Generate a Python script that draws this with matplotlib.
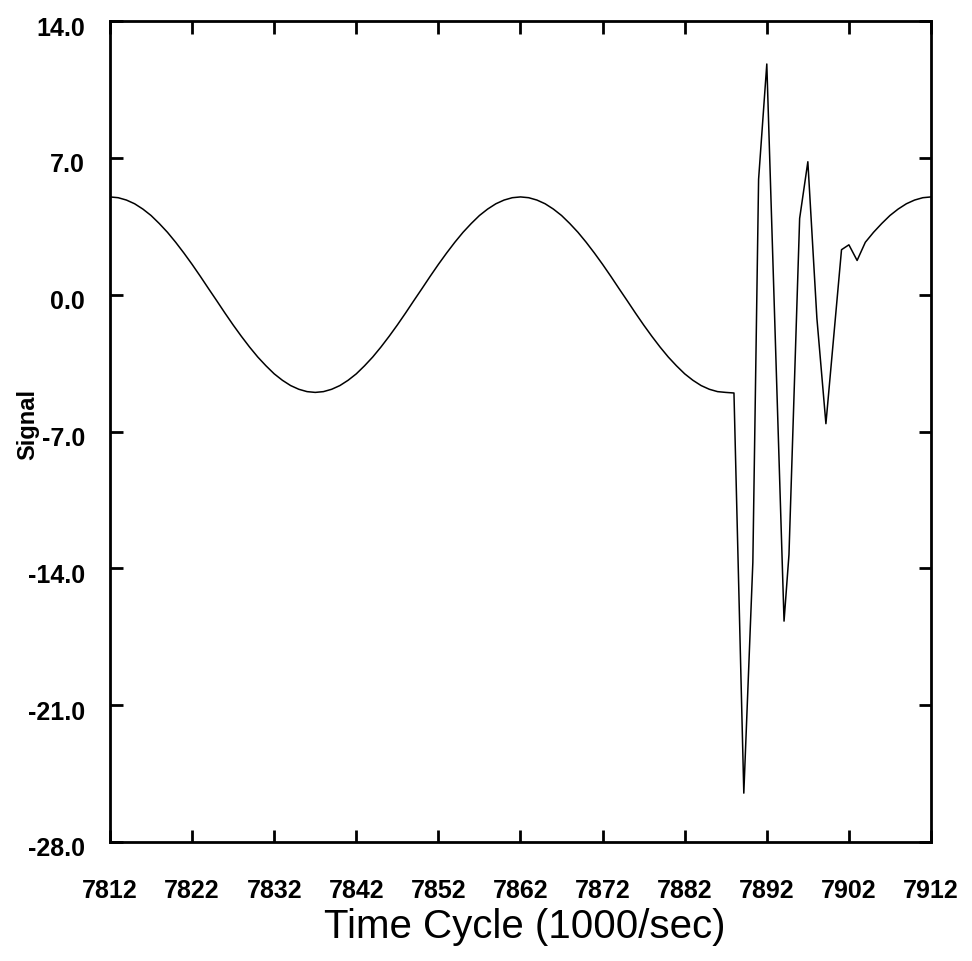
import matplotlib
matplotlib.use("Agg")
import matplotlib.pyplot as plt
import matplotlib.transforms as mtransforms
from matplotlib import font_manager as fm

# pick the regular-width Liberation Sans files (not the Narrow ones)
def lib_font(style):
    for f in fm.fontManager.ttflist:
        if f.fname.endswith('LiberationSans-%s.ttf' % style):
            return f.fname
    return None

reg_file = lib_font('Regular')
bold_file = lib_font('Bold')

def fprop(bold, size):
    fname = bold_file if bold else reg_file
    if fname:
        return fm.FontProperties(fname=fname, size=size)
    return fm.FontProperties(family='DejaVu Sans', weight='bold' if bold else 'normal', size=size)

# smooth part of the trace, read once per time cycle (7812 .. 7887)
t_smooth1 = list(range(7812, 7888))
v_smooth1 = [5.00, 4.96, 4.84, 4.65, 4.38, 4.05, 3.64, 3.19, 2.68, 2.13,
             1.55, 0.94, 0.31, -0.31, -0.94, -1.55, -2.13, -2.68, -3.19, -3.64,
             -4.05, -4.38, -4.65, -4.84, -4.96, -5.00,
             -4.96, -4.84, -4.65, -4.38, -4.05, -3.64, -3.19, -2.68, -2.13, -1.55,
             -0.94, -0.31, 0.31, 0.94, 1.55, 2.13, 2.68, 3.19, 3.64, 4.05,
             4.38, 4.65, 4.84, 4.96, 5.00,
             4.96, 4.84, 4.65, 4.38, 4.05, 3.64, 3.19, 2.68, 2.13, 1.55,
             0.94, 0.31, -0.31, -0.94, -1.55, -2.13, -2.68, -3.19, -3.64, -4.05,
             -4.38, -4.65, -4.84, -4.96, -5.00]

# the disturbed part
t_burst = [7888.0, 7889.2, 7890.3, 7891.0, 7892.0, 7894.1, 7894.7, 7896.0,
           7897.0, 7898.1, 7899.2, 7901.1, 7902.0, 7903.0]
v_burst = [-5.03, -25.5, -13.7, 5.9, 11.8, -16.7, -13.3, 3.9,
           6.8, -1.2, -6.6, 2.3, 2.55, 1.75]

# back on the smooth curve
t_smooth2 = list(range(7904, 7913))
v_smooth2 = [2.68, 3.19, 3.64, 4.05, 4.38, 4.65, 4.84, 4.96, 5.00]

t = t_smooth1 + t_burst + t_smooth2
v = v_smooth1 + v_burst + v_smooth2

x_ticks = list(range(7812, 7913, 10))
y_ticks = [-28.0, -21.0, -14.0, -7.0, 0.0, 7.0, 14.0]

W, H = 972, 962
fig = plt.figure(figsize=(W / 100, H / 100), dpi=100)
ax = fig.add_axes([110 / W, 1 - 843 / H, 821 / W, 821 / H])

ax.plot(t, v, color='black', lw=1.1)

ax.set_xlim(7812, 7912)
ax.set_ylim(-28, 14)
ax.set_xticks(x_ticks)
ax.set_xticklabels([str(x) for x in x_ticks], fontproperties=fprop(True, 18))
ax.set_yticks(y_ticks)
ax.set_yticklabels(['%.1f' % y for y in y_ticks], fontproperties=fprop(True, 18))

for s in ax.spines.values():
    s.set_linewidth(2.0)
ax.tick_params(direction='in', length=9, width=2, top=True, right=True)
ax.tick_params(axis='x', pad=26)
ax.tick_params(axis='y', pad=18)

# y labels sit a little below their ticks in the original
off = mtransforms.ScaledTranslation(0, -4 / 100, fig.dpi_scale_trans)
for lab in ax.get_yticklabels():
    lab.set_transform(lab.get_transform() + off)

ax.set_xlabel('Time Cycle (1000/sec)', fontproperties=fprop(False, 29), va='baseline')
ax.xaxis.set_label_coords(0.505, -0.1157)
ax.set_ylabel('Signal', fontproperties=fprop(True, 17))
ax.yaxis.set_label_coords(-0.086, 0.51)

fig.savefig('out.png', dpi=100, facecolor='white')
